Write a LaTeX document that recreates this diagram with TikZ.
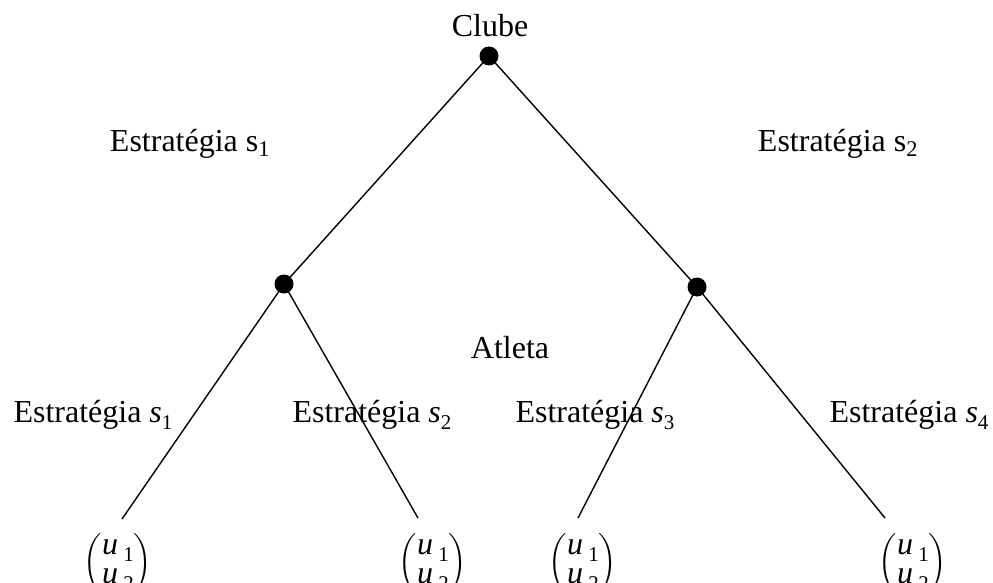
\documentclass[tikz,border=0pt]{standalone}
\usepackage{fix-cm}
\usepackage{amsmath}
\usepackage{fontspec}
\setmainfont{Liberation Serif}
\newcommand{\mysub}[1]{\raisebox{-0.22em}{\fontsize{21}{21}\selectfont #1}}
\newcommand{\svar}[1]{\textit{s}\mysub{#1}}
\newcommand{\uvar}[1]{\textit{u}\,\mysub{#1}}
\newcommand{\payoff}{$\left(\renewcommand{\arraystretch}{0.78}\begin{array}{@{}c@{}}\text{\uvar{1}}\\ \text{\uvar{2}}\end{array}\right)$}
\tikzset{
  dotnode/.style={circle,fill=black,inner sep=0pt,minimum size=19pt},
  edge/.style={line width=1.4pt},
  lbl/.style={inner sep=0pt,font=\fontsize{32}{38}\selectfont},
}
\begin{document}
\begin{tikzpicture}[x=1pt,y=-1pt]
\useasboundingbox (0,0) rectangle (993,583);
% nodes
\coordinate (root) at (489,56);
\coordinate (l) at (284,284);
\coordinate (r) at (697,287);
\coordinate (ll) at (122,519);
\coordinate (lr) at (418,518);
\coordinate (rl) at (578,518);
\coordinate (rr) at (885,518);
% edges
\draw[edge] (root) -- (l);
\draw[edge] (root) -- (r);
\draw[edge] (l) -- (ll);
\draw[edge] (l) -- (lr);
\draw[edge] (r) -- (rl);
\draw[edge] (r) -- (rr);
% dots
\node[dotnode] (droot) at (root) {};
\node[dotnode] (dl) at (l) {};
\node[dotnode] (dr) at (r) {};
% labels
\node[lbl,anchor=base] (clube) at (490,37) {Clube};
\node[lbl,anchor=base] (atleta) at (510,358) {Atleta};
\node[lbl,anchor=base] (s1up) at (190,152) {Estratégia s\textsubscript{1}};
\node[lbl,anchor=base] (s2up) at (838,152) {Estratégia s\textsubscript{2}};
\node[lbl,anchor=base] (s1) at (93,422) {Estratégia \svar{1}};
\node[lbl,anchor=base] (s2) at (372,422) {Estratégia \svar{2}};
\node[lbl,anchor=base] (s3) at (595,422) {Estratégia \svar{3}};
\node[lbl,anchor=base] (s4) at (909,422) {Estratégia \svar{4}};
% payoffs
\node[lbl] (p1) at (118,563) {\payoff};
\node[lbl] (p2) at (433,563) {\payoff};
\node[lbl] (p3) at (583,563) {\payoff};
\node[lbl] (p4) at (913,563) {\payoff};
\end{tikzpicture}
\end{document}
